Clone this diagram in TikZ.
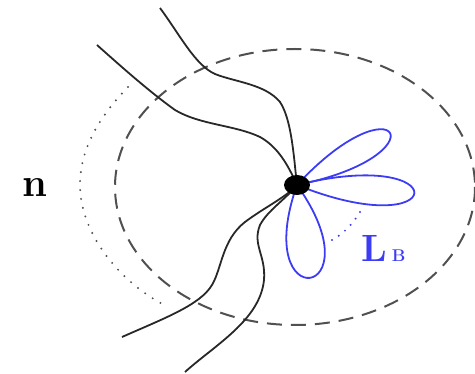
\documentclass[tikz,border=0pt]{standalone}
\usetikzlibrary{shapes.geometric}
\definecolor{curvegray}{RGB}{40,40,40}
\definecolor{dashgray}{RGB}{80,80,80}
\definecolor{petalblue}{RGB}{60,60,245}
\tikzset{
  strand/.style={draw=curvegray, line width=1.8pt},
  bound/.style={draw=dashgray, line width=2pt, dash pattern=on 15pt off 9pt},
  dotarc/.style={draw=dashgray, line width=2.2pt, line cap=round, dash pattern=on 0pt off 9pt},
  petal/.style={draw=petalblue, line width=1.8pt},
  petaldots/.style={draw=petalblue, line width=2.2pt, line cap=round, dash pattern=on 0pt off 8pt},
  blob/.style={ellipse, fill=black, minimum width=26pt, minimum height=20pt, inner sep=0pt},
}
\begin{document}
\begin{tikzpicture}[x=1pt,y=-1pt]
\useasboundingbox (0,0) rectangle (475,374);
% boundary and dotted arc
\draw[bound] (295,187) ellipse [x radius=180, y radius=138];
\draw[dotarc] (128,87) .. controls (98,118) and (80,150) .. (80,185) .. controls (80,232) and (118,282) .. (168,307);
% junction
\coordinate (c) at (297,185);
\coordinate (e1) at (160,8);
\coordinate (e2) at (97,45);
\coordinate (e3) at (122,337);
\coordinate (e4) at (185,372);
\draw[strand] (e1) .. controls (180,35) and (195,65) .. (215,74) .. controls (235,82) and (265,84) .. (280,102) .. controls (292,120) and (294,160) .. (c);
\draw[strand] (e2) .. controls (125,70) and (150,92) .. (175,110) .. controls (200,125) and (235,125) .. (260,137) .. controls (278,147) and (288,165) .. (c);
\draw[strand] (e3) .. controls (165,318) and (200,305) .. (212,285) .. controls (222,268) and (222,240) .. (245,222) .. controls (265,207) and (285,198) .. (c);
\draw[strand] (e4) .. controls (215,345) and (260,320) .. (264,280) .. controls (266,255) and (252,245) .. (260,225) .. controls (268,210) and (285,200) .. (c);
% petals
\draw[petal] (c) .. controls (398.6,75.5) and (443.4,155.9) .. (c);
\draw[petal] (c) .. controls (457,145) and (450,246.5) .. (c);
\draw[petal] (c) .. controls (378.7,299.8) and (249.9,317.8) .. (c);
\coordinate (d1) at (360,212);
\coordinate (d2) at (325,243);
\draw[petaldots] (d1) .. controls (352,225) and (340,238) .. (d2);
\node[blob] (b) at (c) {};
% labels
\node[text=petalblue, anchor=base west, inner sep=0pt] (lb) at (361,262) {\fontsize{38}{38}\selectfont\bfseries L\hspace{5pt}\fontsize{17}{17}\selectfont B};
\node[anchor=base, inner sep=0pt] (n) at (35,197) {\fontsize{40}{40}\selectfont\bfseries n};
\end{tikzpicture}
\end{document}
